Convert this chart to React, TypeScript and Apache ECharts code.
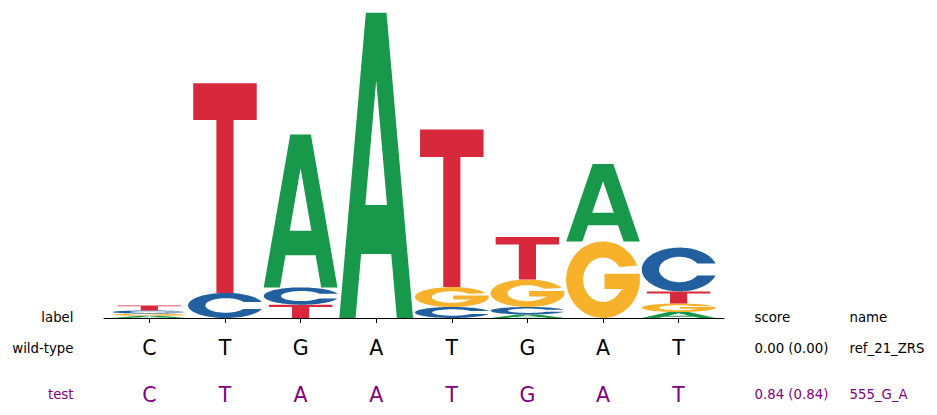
import React, { useEffect, useRef } from 'react';
import * as echarts from 'echarts';

// logo data: information (bits) of each base at each position
const POSITIONS = [0, 1, 2, 3, 4, 5, 6, 7];
const LETTERS = ['A', 'C', 'G', 'T'];
const COLORS = ['#17984a', '#215f9f', '#f8b12a', '#d8283c'];
const A_BITS = [0.014, 0, 1.0, 1.995, 0, 0.023, 0.507, 0.039];
const C_BITS = [0.02, 0.164, 0.113, 0, 0.072, 0.049, 0, 0.286];
const G_BITS = [0.015, 0, 0, 0, 0.13, 0.18, 0.5, 0.056];
const T_BITS = [0.033, 1.37, 0.087, 0, 1.03, 0.277, 0, 0.079];

// table below the logo
const WILD_TYPE = ['C', 'T', 'G', 'A', 'T', 'G', 'A', 'T'];
const TEST_SEQ = ['C', 'T', 'A', 'A', 'T', 'G', 'A', 'T'];
const ROW_LABELS = ['label', 'wild-type', 'test'];
const SCORES = ['score', '0.00 (0.00)', '0.84 (0.84)'];
const NAMES = ['name', 'ref_21_ZRS', '555_G_A'];
const ROW_COLORS = ['#000000', '#000000', '#800080'];

const FONT = '"DejaVu Sans", sans-serif';
const GLYPH_WIDTH = 0.975;
const T_WIDTH = 0.84;

// --- letter outlines in a unit box (y down) ---
const f = (n: number) => n.toFixed(4);
function arc(rx: number, ry: number, a0: number, a1: number, steps: number) {
  const pts: string[] = [];
  for (let i = 0; i <= steps; i++) {
    const a = ((a0 + ((a1 - a0) * i) / steps) * Math.PI) / 180;
    pts.push(`${f(0.5 + rx * Math.cos(a))} ${f(0.5 - ry * Math.sin(a))}`);
  }
  return pts;
}
const RO = 0.5;
const RXI = 0.27;
const RYI = 0.29;

function glyphC() {
  const a0 = 16;
  const ai = (Math.asin((RO * Math.sin((a0 * Math.PI) / 180)) / RYI) * 180) / Math.PI;
  const outer = arc(RO, RO, a0, 360 - a0, 72);
  const inner = arc(RXI, RYI, 360 - ai, ai, 72);
  return 'M' + outer.join(' L') + ' L' + inner.join(' L') + ' Z';
}
function glyphG() {
  const outer = arc(RO, RO, 22, 352, 72);
  const inner = arc(RXI, RYI, -35, -325, 72);
  return (
    'M' + outer.join(' L') +
    ' L1 0.57 L1 0.42 L0.52 0.42 L0.52 0.62 L0.77 0.62 L' +
    inner.join(' L') + ' Z'
  );
}
const GLYPH_A =
  'M0 1 L0.36 0 L0.64 0 L1 1 L0.78 1 L0.704 0.79 L0.296 0.79 L0.22 1 Z ' +
  'M0.353 0.63 L0.647 0.63 L0.5 0.222 Z';
const GLYPH_T = 'M0 0 L1 0 L1 0.175 L0.635 0.175 L0.635 1 L0.365 1 L0.365 0.175 L0 0.175 Z';
const GLYPHS = [GLYPH_A, glyphC(), glyphG(), GLYPH_T];

// stack letters at each position, smallest at the bottom
function buildStacks() {
  const bits = [A_BITS, C_BITS, G_BITS, T_BITS];
  const items: number[][] = [];
  POSITIONS.forEach((p) => {
    const order = LETTERS.map((_, li) => li)
      .filter((li) => bits[li][p] > 0)
      .sort((a, b) => bits[a][p] - bits[b][p]);
    let y = 0;
    order.forEach((li) => {
      items.push([p, y, y + bits[li][p], li]);
      y += bits[li][p];
    });
  });
  return items;
}

export default function App() {
  const ref = useRef<HTMLDivElement | null>(null);

  useEffect(() => {
    if (!ref.current) return;
    const chart = echarts.init(ref.current, undefined, { renderer: 'svg' });

    const axisY = 318;
    const rowY = [axisY - 1, axisY + 30.7, axisY + 76.6];
    const texts: any[] = [];
    ROW_LABELS.forEach((t, i) => {
      texts.push({ type: 'text', x: 73.5, y: rowY[i], style: { text: t, fill: ROW_COLORS[i], font: `13.3px ${FONT}`, align: 'right', verticalAlign: 'middle' } });
      texts.push({ type: 'text', x: 754.5, y: rowY[i], style: { text: SCORES[i], fill: ROW_COLORS[i], font: `13.3px ${FONT}`, align: 'left', verticalAlign: 'middle' } });
      texts.push({ type: 'text', x: 849.5, y: rowY[i], style: { text: NAMES[i], fill: ROW_COLORS[i], font: `13.3px ${FONT}`, align: 'left', verticalAlign: 'middle' } });
    });

    const seqLabel = (seq: string[], color: string) => ({
      customValues: POSITIONS,
      formatter: (v: number) => seq[Math.round(v)],
      margin: 30,
      verticalAlign: 'middle',
      fontSize: 20.5,
      fontFamily: FONT,
      color,
    });

    chart.setOption({
      animation: false,
      backgroundColor: '#ffffff',
      grid: { left: 104, right: 213, top: 12, bottom: 415 - axisY },
      xAxis: [
        {
          type: 'value', min: -0.6, max: 7.6,
          axisLine: { show: true, lineStyle: { color: '#000', width: 1 } },
          axisTick: { show: true, length: 5, customValues: POSITIONS, lineStyle: { color: '#000', width: 1 } },
          axisLabel: seqLabel(WILD_TYPE, '#000000'),
          splitLine: { show: false },
        },
        {
          type: 'value', min: -0.6, max: 7.6, position: 'bottom', offset: 46.7,
          axisLine: { show: false },
          axisTick: { show: false },
          axisLabel: seqLabel(TEST_SEQ, '#800080'),
          splitLine: { show: false },
        },
      ],
      yAxis: { type: 'value', min: 0, max: 2, show: false },
      graphic: texts,
      series: [
        {
          type: 'custom',
          xAxisIndex: 0,
          data: buildStacks(),
          renderItem: (params: any, api: any) => {
            const x = api.value(0) as number;
            const y0 = api.value(1) as number;
            const y1 = api.value(2) as number;
            const li = api.value(3) as number;
            const w = li === 3 ? T_WIDTH : GLYPH_WIDTH;
            const tl = api.coord([x - w / 2, y1]);
            const br = api.coord([x + w / 2, y0]);
            return {
              type: 'path',
              shape: {
                pathData: GLYPHS[li],
                x: tl[0], y: tl[1],
                width: br[0] - tl[0], height: br[1] - tl[1],
                layout: 'cover',
              },
              style: { fill: COLORS[li] },
            };
          },
        },
      ],
    });

    return () => { chart.dispose(); };
  }, []);

  return <div ref={ref} style={{ position: 'absolute', left: 0, top: 0, width: 937, height: 415 }} />;
}
